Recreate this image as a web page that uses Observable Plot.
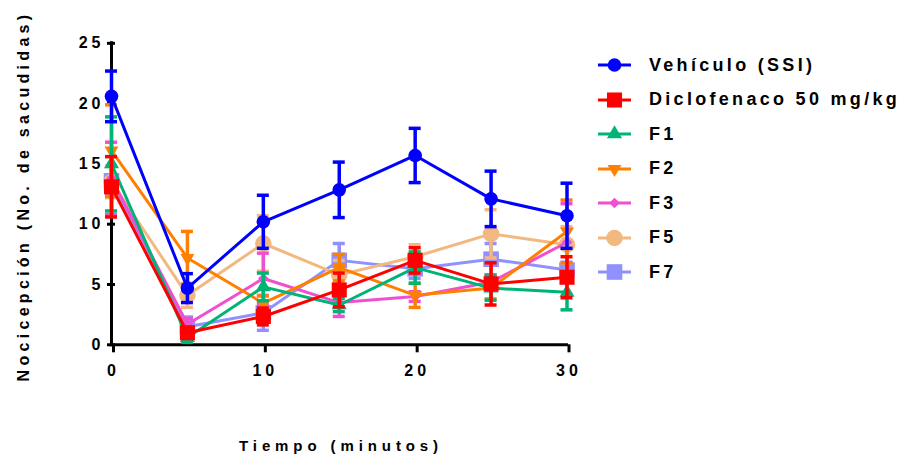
<!DOCTYPE html>
<html><head><meta charset="utf-8">
<script src="https://cdn.jsdelivr.net/npm/d3@7"></script>
<script src="https://cdn.jsdelivr.net/npm/@observablehq/plot@0.6"></script>
<style>
body{margin:0;background:#fff;}
#wrap{position:relative;width:903px;height:457px;overflow:hidden;font-family:"Liberation Sans",Arial,sans-serif;font-weight:bold;color:#000;}
#chart svg{font-family:"Liberation Sans",Arial,sans-serif;}
#chart svg text{font-weight:bold;letter-spacing:4px;}
.ytitle{position:absolute;left:24px;top:196px;transform:translate(-50%,-50%) rotate(-90deg);white-space:nowrap;font-size:16px;letter-spacing:4.3px;}
.xtitle{position:absolute;left:341px;top:445px;transform:translate(-50%,-50%);white-space:nowrap;font-size:15px;letter-spacing:4.9px;}
#legend{position:absolute;left:597px;top:0;}
.lrow{position:absolute;left:0;height:24px;display:flex;align-items:center;white-space:nowrap;font-size:18px;letter-spacing:3.3px;}
.lrow svg{width:36px;height:24px;margin-right:16px;}
</style></head>
<body>
<div id="wrap">
  <div id="chart"></div>
  <div class="ytitle">Nocicepción (No. de sacudidas)</div>
  <div class="xtitle">Tiempo (minutos)</div>
  <div id="legend"></div>
</div>
<script>
// ---- data ----
const times = [0, 5, 10, 15, 20, 25, 30];
const seriesNames = ["Vehículo (SSI)", "Diclofenaco 50 mg/kg", "F1", "F2", "F3", "F5", "F7"];
const vehiculoMean = [20.6, 4.7, 10.2, 12.85, 15.7, 12.1, 10.7];
const vehiculoSem  = [2.1, 1.2, 2.2, 2.3, 2.25, 2.3, 2.7];
const diclofenacoMean = [13.1, 1.0, 2.35, 4.55, 7.0, 5.05, 5.6];
const diclofenacoSem  = [2.5, 0.4, 0.7, 1.4, 1.05, 1.75, 1.7];
const f1Mean = [15.0, 0.6, 4.8, 3.3, 6.4, 4.7, 4.35];
const f1Sem  = [3.9, 0.4, 1.15, 0.55, 1.3, 1.0, 1.45];
const f2Mean = [16.1, 7.2, 3.45, 6.4, 4.1, 4.7, 9.4];
const f2Sem  = [3.8, 2.2, 0.6, 1.1, 1.0, 0.9, 2.6];
const f3Mean = [13.8, 1.7, 5.5, 3.5, 4.0, 5.2, 8.5];
const f3Sem  = [3.0, 0.5, 2.1, 1.15, 0.4, 0.6, 3.2];
const f5Mean = [13.5, 4.1, 8.4, 5.8, 7.3, 9.2, 8.3];
const f5Sem  = [1.3, 1.0, 2.3, 1.2, 1.0, 2.0, 1.5];
const f7Mean = [13.6, 1.5, 2.65, 7.0, 6.3, 7.1, 6.2];
const f7Sem  = [1.2, 0.8, 1.45, 1.4, 0.8, 1.3, 0.65];
const xTicks = [0, 10, 20, 30];
const yTicks = [0, 5, 10, 15, 20, 25];

const means = [vehiculoMean, diclofenacoMean, f1Mean, f2Mean, f3Mean, f5Mean, f7Mean];
const sems = [vehiculoSem, diclofenacoSem, f1Sem, f2Sem, f3Sem, f5Sem, f7Sem];

// ---- styles ----
const styles = [
  {color: "#0000ff", symbol: "circle", r: 6.8, rotate: 0},
  {color: "#ff0000", symbol: "square", r: 8.5, rotate: 0},
  {color: "#00b377", symbol: "triangle", r: 5.6, rotate: 0},
  {color: "#ff8000", symbol: "triangle", r: 5.2, rotate: 180},
  {color: "#f050d0", symbol: "diamond2", r: 4.8, rotate: 0},
  {color: "#f2b880", symbol: "circle", r: 8.3, rotate: 0},
  {color: "#9090ff", symbol: "square", r: 8.8, rotate: 0}
];

const rows = [];
seriesNames.forEach((name, k) => times.forEach((t, i) => rows.push({series: name, k, t, m: means[k][i], s: sems[k][i]})));

const marks = [
  Plot.ruleX([0], {y1: 0, y2: 25, strokeWidth: 3, strokeLinecap: "square"}),
  Plot.ruleY([0], {x1: 0, x2: 30, strokeWidth: 3, strokeLinecap: "square"}),
  Plot.axisX({ticks: xTicks, tickSize: 8, tickPadding: 12, strokeWidth: 3, fontSize: 16, label: null, dx: 2}),
  Plot.axisY({ticks: yTicks, tickSize: 8, tickPadding: 3, strokeWidth: 3, fontSize: 16, label: null, dx: 4})
];
for (let k = seriesNames.length - 1; k >= 0; k--) {
  const d = rows.filter(r => r.k === k);
  const st = styles[k];
  marks.push(Plot.line(d, {x: "t", y: "m", stroke: st.color, strokeWidth: 3}));
  marks.push(Plot.ruleX(d, {x: "t", y1: r => r.m - r.s, y2: r => r.m + r.s, stroke: st.color, strokeWidth: 3.5}));
  marks.push(Plot.ruleY(d, {y: r => r.m + r.s, x1: "t", x2: "t", insetLeft: -6, insetRight: -6, stroke: st.color, strokeWidth: 3.5}));
  marks.push(Plot.ruleY(d, {y: r => r.m - r.s, x1: "t", x2: "t", insetLeft: -6, insetRight: -6, stroke: st.color, strokeWidth: 3.5}));
  marks.push(Plot.dot(d, {x: "t", y: "m", symbol: st.symbol, r: st.r, rotate: st.rotate, fill: st.color, stroke: "none"}));
}

const chart = Plot.plot({
  width: 903, height: 457,
  marginLeft: 111, marginRight: 336.5, marginTop: 42.8, marginBottom: 112.7,
  x: {domain: [0, 30]},
  y: {domain: [0, 25]},
  marks
});
document.getElementById("chart").appendChild(chart);

// ---- legend ----
const symMap = {circle: d3.symbolCircle, square: d3.symbolSquare, triangle: d3.symbolTriangle, diamond2: d3.symbolDiamond2};
const leg = document.getElementById("legend");
const rowY = [65, 99.5, 134, 168.5, 203, 237.5, 272];
seriesNames.forEach((name, k) => {
  const st = styles[k];
  const div = document.createElement("div");
  div.className = "lrow";
  div.style.top = (rowY[k] - 12) + "px";
  const path = d3.symbol().type(symMap[st.symbol]).size(Math.PI * st.r * st.r)();
  div.innerHTML = `<svg viewBox="0 0 36 24"><line x1="1" x2="34" y1="12" y2="12" stroke="${st.color}" stroke-width="3"/><path d="${path}" transform="translate(17.5,12) rotate(${st.rotate})" fill="${st.color}"/></svg><span>${name}</span>`;
  leg.appendChild(div);
});
</script>
</body></html>
